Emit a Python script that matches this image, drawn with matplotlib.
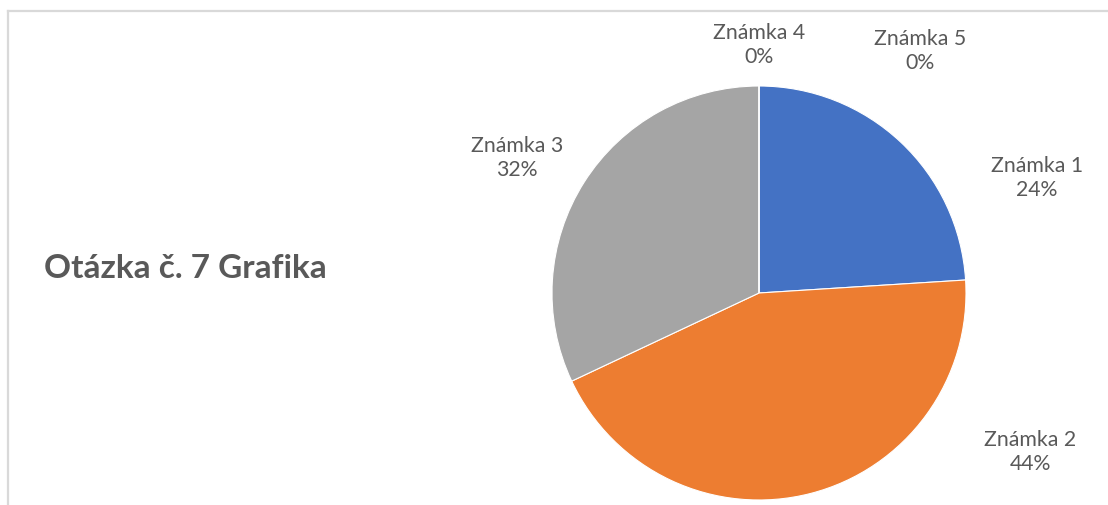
import matplotlib
matplotlib.use("Agg")
import matplotlib.pyplot as plt
from matplotlib.lines import Line2D

categories = ["Známka 1", "Známka 2", "Známka 3", "Známka 4", "Známka 5"]
counts = [6, 11, 8, 0, 0]
colors = ["#4472C4", "#ED7D31", "#A5A5A5", "#FFC000", "#5B9BD5"]
title = "Otázka č. 7 Grafika"

W, H = 1108, 506
fig = plt.figure(figsize=(W / 100, H / 100), dpi=100)
fig.patch.set_facecolor("white")

cx, cy, r = 759, 294, 207
ax = fig.add_axes([(cx - r) / W, (H - cy - r) / H, 2 * r / W, 2 * r / H])
ax.pie(counts, colors=colors, startangle=90, counterclock=False, radius=1,
       wedgeprops=dict(linewidth=0.8, edgecolor="white"))
ax.set_xlim(-1, 1)
ax.set_ylim(-1, 1)
ax.set_aspect("equal")
ax.axis("off")

total = sum(counts)
label_pos = [(1037, 178), (1030, 452), (517, 158), (759, 45), (920, 51)]
for name, c, (px, py) in zip(categories, counts, label_pos):
    pct = round(100 * c / total)
    ax.text((px - cx) / r, (cy - py) / r, f"{name}\n{pct}%", ha="center", va="center",
            fontsize=15.3, color="#595959", family=["Lato", "DejaVu Sans"],
            linespacing=1.3, clip_on=False)

fig.text(44 / W, 1 - 268 / H, title, ha="left", va="center", fontsize=24,
         fontweight="bold", color="#595959", family=["Lato", "DejaVu Sans"])

# chart border (top and left visible)
fig.add_artist(Line2D([7.5 / W, 1], [1 - 11.5 / H, 1 - 11.5 / H], color="#d9d9d9", lw=1.6,
                      transform=fig.transFigure))
fig.add_artist(Line2D([7.5 / W, 7.5 / W], [0, 1 - 11.5 / H], color="#d9d9d9", lw=1.6,
                      transform=fig.transFigure))

fig.savefig("out.png", dpi=100, facecolor="white")
